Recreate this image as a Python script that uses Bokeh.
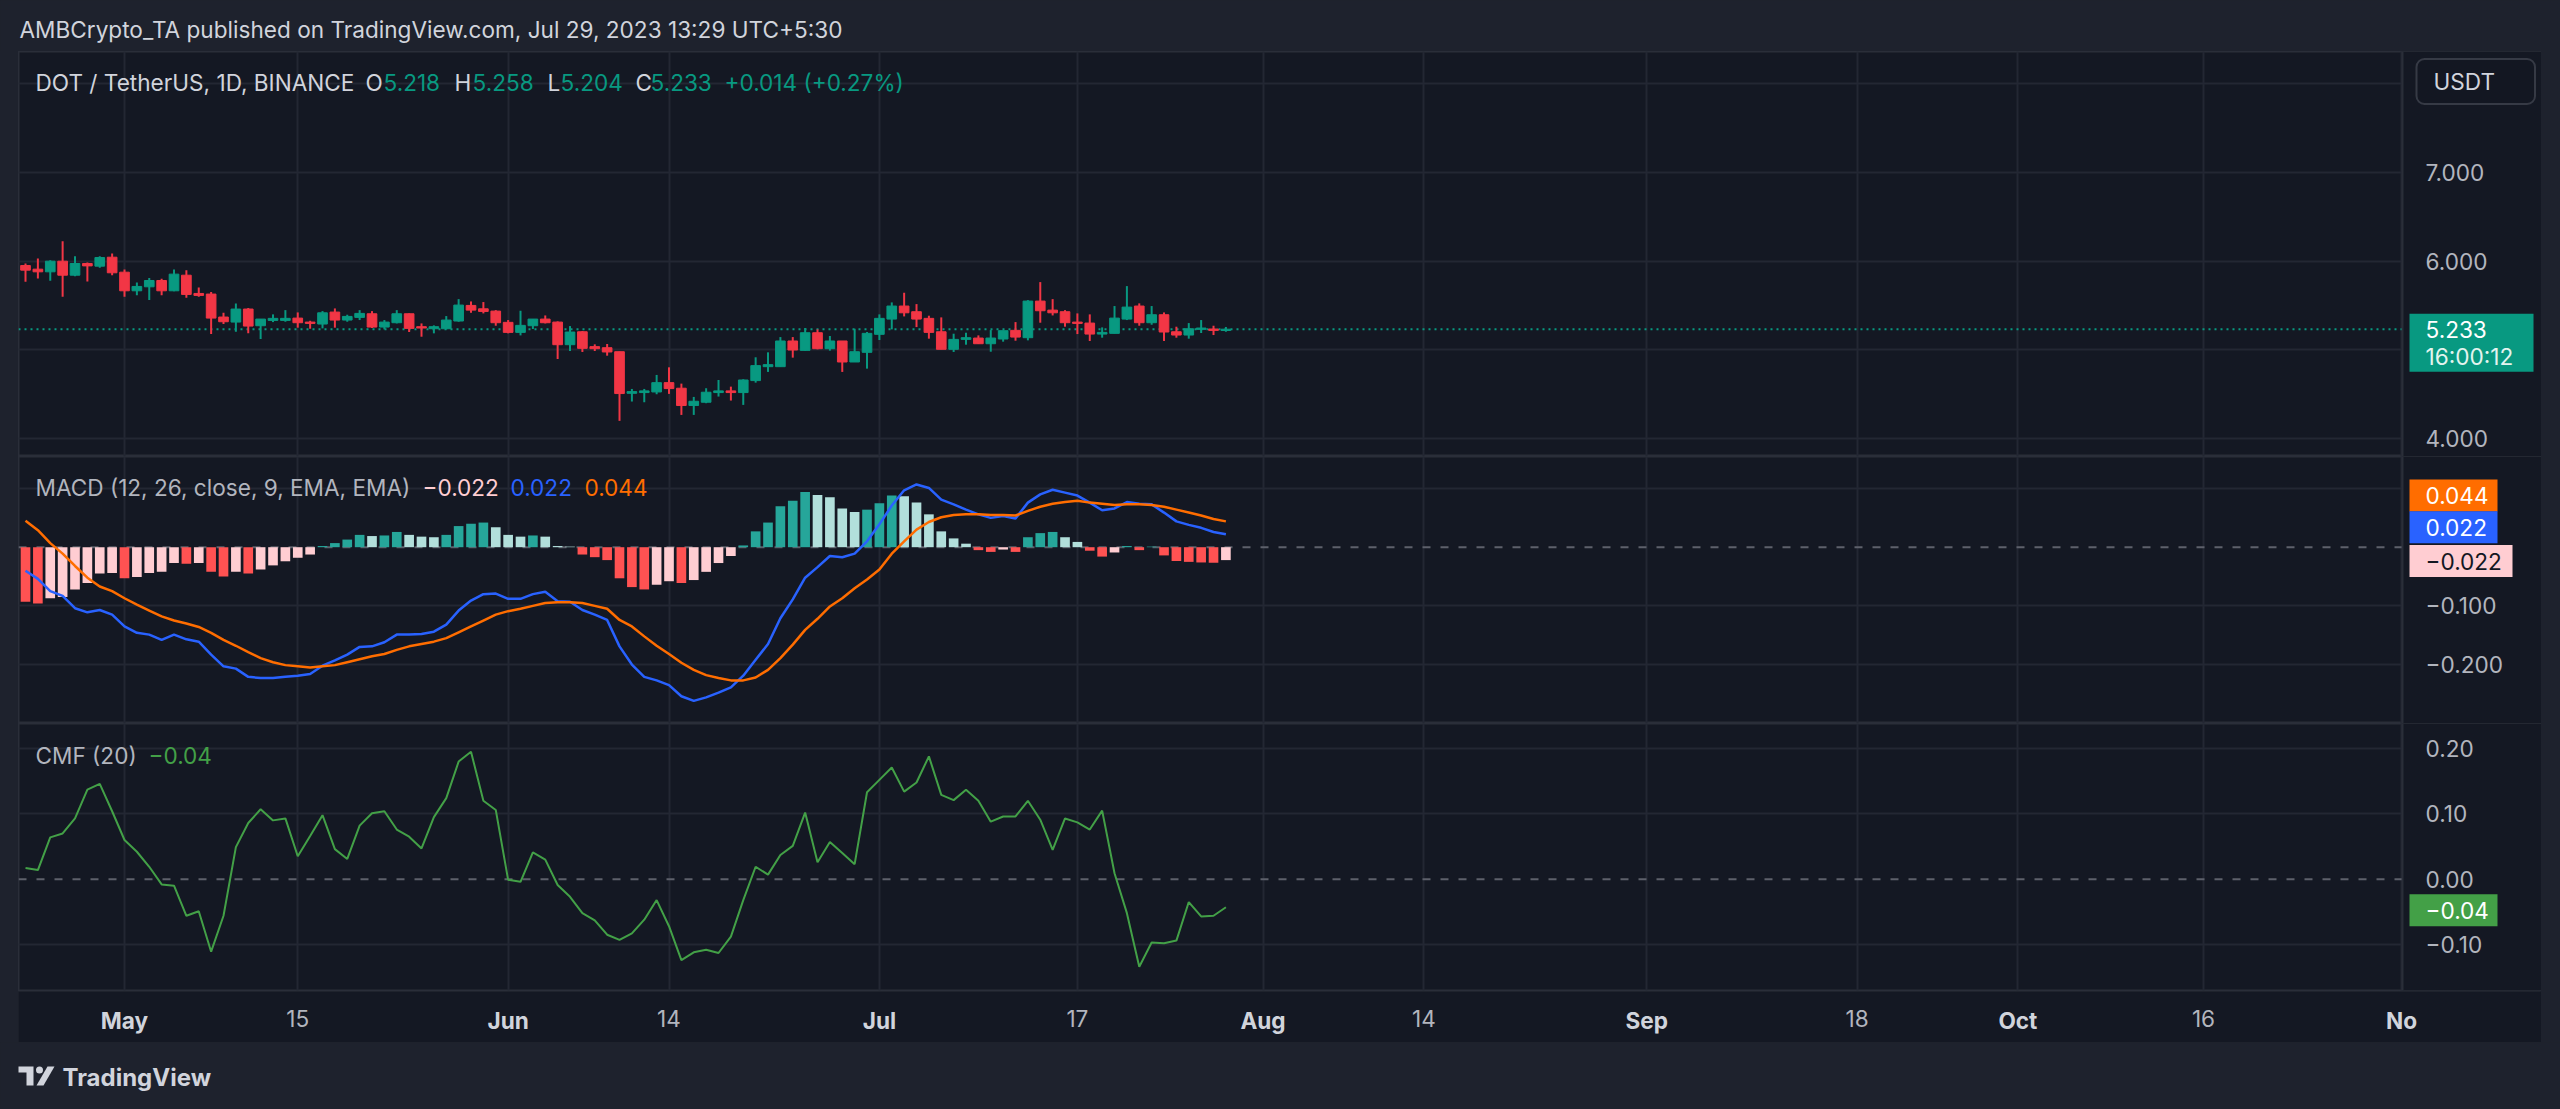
import numpy as np
import pandas as pd
from bokeh.plotting import figure
from bokeh.layouts import column, row
from bokeh.models import (Range1d, LinearAxis, FixedTicker, Grid, Span, Label, BoxAnnotation,
                          ColumnDataSource, CustomJSTickFormatter, Spacer)
from bokeh.embed import file_html
from bokeh.resources import INLINE

# ---------------- data ----------------
start_date = "2023-04-23"
end_date = "2023-07-29"
ref_date = "2023-05-01"

opens = [5.951, 5.910, 5.880, 6.000, 5.842, 5.974, 5.944, 6.045, 5.876, 5.666,
         5.711, 5.782, 5.666, 5.842, 5.636, 5.629, 5.370, 5.313, 5.460, 5.272,
         5.332, 5.332, 5.358, 5.313, 5.291, 5.426, 5.336, 5.366, 5.407, 5.257,
         5.306, 5.407, 5.261, 5.238, 5.238, 5.325, 5.501, 5.463, 5.437, 5.310,
         5.197, 5.272, 5.347, 5.313, 5.058, 5.204, 5.036, 5.024, 4.979, 4.510,
         4.518, 4.525, 4.630, 4.567, 4.372, 4.409, 4.518, 4.537, 4.518, 4.653,
         4.810, 4.810, 5.100, 4.994, 5.193, 5.013, 5.100, 4.863, 4.972, 5.175,
         5.347, 5.494, 5.430, 5.355, 5.204, 5.006, 5.118, 5.133, 5.069, 5.122,
         5.220, 5.137, 5.550, 5.448, 5.430, 5.313, 5.302, 5.178, 5.186, 5.347,
         5.494, 5.306, 5.396, 5.204, 5.167, 5.231, 5.235, 5.218]
highs = [5.974, 6.030, 6.011, 6.225, 6.056, 5.985, 6.056, 6.086, 5.906, 5.760,
         5.809, 5.801, 5.906, 5.899, 5.704, 5.651, 5.418, 5.524, 5.471, 5.347,
         5.400, 5.448, 5.422, 5.328, 5.437, 5.467, 5.396, 5.448, 5.437, 5.336,
         5.448, 5.411, 5.298, 5.276, 5.381, 5.572, 5.546, 5.539, 5.448, 5.336,
         5.441, 5.347, 5.388, 5.321, 5.268, 5.212, 5.062, 5.066, 4.979, 4.559,
         4.559, 4.717, 4.803, 4.619, 4.469, 4.567, 4.660, 4.585, 4.668, 4.916,
         4.972, 5.144, 5.144, 5.246, 5.231, 5.156, 5.100, 5.238, 5.201, 5.400,
         5.535, 5.644, 5.516, 5.385, 5.366, 5.182, 5.193, 5.163, 5.223, 5.216,
         5.313, 5.561, 5.764, 5.572, 5.448, 5.411, 5.400, 5.253, 5.494, 5.719,
         5.524, 5.494, 5.422, 5.261, 5.302, 5.336, 5.272, 5.258]
lows = [5.767, 5.805, 5.779, 5.599, 5.831, 5.771, 5.925, 5.842, 5.599, 5.617,
        5.561, 5.617, 5.662, 5.587, 5.599, 5.178, 5.291, 5.204, 5.186, 5.122,
        5.313, 5.317, 5.250, 5.238, 5.242, 5.250, 5.317, 5.336, 5.246, 5.231,
        5.298, 5.201, 5.148, 5.186, 5.231, 5.317, 5.418, 5.411, 5.272, 5.186,
        5.163, 5.235, 5.298, 4.897, 4.987, 4.976, 4.987, 4.934, 4.199, 4.417,
        4.409, 4.499, 4.503, 4.266, 4.266, 4.398, 4.473, 4.428, 4.379, 4.630,
        4.751, 4.810, 4.912, 4.991, 5.006, 4.991, 4.751, 4.863, 4.788, 5.111,
        5.231, 5.377, 5.257, 5.126, 5.006, 4.976, 5.058, 5.066, 4.979, 5.092,
        5.103, 5.107, 5.306, 5.388, 5.261, 5.178, 5.100, 5.137, 5.186, 5.336,
        5.272, 5.283, 5.100, 5.137, 5.126, 5.190, 5.167, 5.204]
closes = [5.899, 5.880, 6.000, 5.842, 5.974, 5.947, 6.041, 5.869, 5.666, 5.715,
          5.782, 5.666, 5.854, 5.625, 5.614, 5.358, 5.317, 5.460, 5.268, 5.347,
          5.355, 5.355, 5.306, 5.298, 5.418, 5.336, 5.377, 5.411, 5.257, 5.313,
          5.407, 5.242, 5.246, 5.261, 5.336, 5.505, 5.448, 5.433, 5.306, 5.197,
          5.276, 5.347, 5.306, 5.058, 5.201, 5.017, 5.013, 4.976, 4.507, 4.529,
          4.537, 4.630, 4.563, 4.372, 4.420, 4.522, 4.537, 4.518, 4.660, 4.822,
          4.833, 5.100, 4.998, 5.193, 5.013, 5.100, 4.863, 4.979, 5.186, 5.355,
          5.494, 5.418, 5.347, 5.197, 5.006, 5.118, 5.137, 5.069, 5.133, 5.216,
          5.144, 5.550, 5.441, 5.418, 5.306, 5.298, 5.178, 5.197, 5.358, 5.482,
          5.306, 5.396, 5.201, 5.167, 5.238, 5.246, 5.219, 5.233]

macd_line = [-0.040, -0.054, -0.075, -0.083, -0.104, -0.111, -0.107, -0.115, -0.135, -0.146,
             -0.149, -0.158, -0.149, -0.157, -0.161, -0.183, -0.203, -0.207, -0.221, -0.223,
             -0.223, -0.221, -0.219, -0.216, -0.202, -0.193, -0.183, -0.170, -0.169, -0.162,
             -0.149, -0.149, -0.148, -0.144, -0.132, -0.108, -0.091, -0.080, -0.079, -0.088,
             -0.088, -0.080, -0.076, -0.092, -0.093, -0.107, -0.115, -0.124, -0.169, -0.200,
             -0.221, -0.227, -0.235, -0.254, -0.262, -0.256, -0.248, -0.239, -0.219, -0.192,
             -0.165, -0.121, -0.089, -0.052, -0.034, -0.015, -0.017, -0.011, 0.010, 0.039,
             0.071, 0.097, 0.107, 0.101, 0.081, 0.073, 0.064, 0.056, 0.050, 0.053,
             0.049, 0.076, 0.090, 0.098, 0.093, 0.088, 0.076, 0.063, 0.066, 0.077,
             0.074, 0.073, 0.059, 0.044, 0.038, 0.033, 0.026, 0.022]
signal_line = [0.045, 0.029, 0.007, -0.011, -0.032, -0.052, -0.067, -0.075, -0.087, -0.098,
               -0.108, -0.118, -0.125, -0.130, -0.136, -0.146, -0.158, -0.168, -0.179, -0.189,
               -0.196, -0.201, -0.203, -0.205, -0.203, -0.201, -0.196, -0.191, -0.186, -0.182,
               -0.175, -0.169, -0.165, -0.161, -0.155, -0.145, -0.135, -0.125, -0.115, -0.109,
               -0.105, -0.100, -0.095, -0.094, -0.094, -0.095, -0.100, -0.105, -0.124, -0.135,
               -0.152, -0.168, -0.182, -0.197, -0.209, -0.218, -0.223, -0.227, -0.227, -0.222,
               -0.209, -0.189, -0.166, -0.141, -0.122, -0.101, -0.087, -0.070, -0.055, -0.038,
               -0.011, 0.010, 0.030, 0.043, 0.051, 0.055, 0.056, 0.056, 0.055, 0.055,
               0.054, 0.062, 0.069, 0.074, 0.077, 0.079, 0.076, 0.074, 0.072, 0.073,
               0.073, 0.072, 0.069, 0.064, 0.059, 0.054, 0.048, 0.044]
macd_hist = [-0.093, -0.096, -0.087, -0.085, -0.072, -0.061, -0.045, -0.044, -0.053, -0.051,
             -0.044, -0.042, -0.027, -0.028, -0.027, -0.042, -0.050, -0.042, -0.045, -0.038,
             -0.031, -0.024, -0.018, -0.0125, 0.002, 0.007, 0.013, 0.021, 0.019, 0.020,
             0.026, 0.021, 0.018, 0.017, 0.021, 0.036, 0.040, 0.042, 0.034, 0.021,
             0.018, 0.020, 0.018, 0.002, 0.001, -0.0125, -0.017, -0.022, -0.053, -0.068,
             -0.072, -0.064, -0.058, -0.061, -0.056, -0.042, -0.027, -0.015, 0.003, 0.027,
             0.042, 0.070, 0.079, 0.094, 0.089, 0.085, 0.066, 0.060, 0.064, 0.075,
             0.088, 0.087, 0.076, 0.056, 0.027, 0.015, 0.006, -0.005, -0.008, -0.004,
             -0.008, 0.017, 0.024, 0.026, 0.017, 0.009, -0.006, -0.016, -0.009, 0.002,
             -0.005, 0.001, -0.014, -0.0235, -0.025, -0.026, -0.0265, -0.022]
cmf = [0.017, 0.014, 0.064, 0.070, 0.093, 0.137, 0.146, 0.104, 0.060, 0.042,
       0.019, -0.008, -0.010, -0.056, -0.049, -0.111, -0.056, 0.049, 0.086, 0.107,
       0.090, 0.093, 0.035, 0.066, 0.098, 0.046, 0.031, 0.082, 0.101, 0.104,
       0.076, 0.065, 0.047, 0.095, 0.124, 0.180, 0.195, 0.120, 0.106, -0.001,
       -0.004, 0.041, 0.030, -0.009, -0.027, -0.052, -0.063, -0.085, -0.093, -0.083,
       -0.062, -0.032, -0.072, -0.124, -0.112, -0.108, -0.113, -0.088, -0.032, 0.019,
       0.007, 0.037, 0.051, 0.102, 0.026, 0.057, 0.040, 0.023, 0.133, 0.152,
       0.171, 0.134, 0.148, 0.188, 0.129, 0.121, 0.137, 0.120, 0.088, 0.096,
       0.096, 0.120, 0.091, 0.045, 0.093, 0.087, 0.076, 0.105, 0.009, -0.052,
       -0.134, -0.097, -0.098, -0.094, -0.035, -0.057, -0.056, -0.043]

tick_dates = ["2023-05-01", "2023-05-15", "2023-06-01", "2023-06-14", "2023-07-01",
              "2023-07-17", "2023-08-01", "2023-08-14", "2023-09-01", "2023-09-18",
              "2023-10-01", "2023-10-16", "2023-11-01"]
tick_labels = ["May", "15", "Jun", "14", "Jul", "17", "Aug", "14", "Sep", "18", "Oct", "16", "No"]
tick_is_month = [True, False, True, False, True, False, True, False, True, False, True, False, True]

price_ticks = [4.0, 6.0, 7.0]
price_grid = [4.0, 5.0, 6.0, 7.0, 8.0]
macd_ticks = [-0.1, -0.2]
macd_grid = [0.1, -0.1, -0.2]
cmf_ticks = [0.2, 0.1, 0.0, -0.1]
cmf_grid = [0.2, 0.1, -0.1]

symbol_text = "DOT / TetherUS, 1D, BINANCE"
header_text = "AMBCrypto_TA published on TradingView.com, Jul 29, 2023 13:29 UTC+5:30"
countdown = "16:00:12"
currency = "USDT"

# ---------------- style ----------------
FONT = "Inter"
FS = "22.6px"
OUT = "#1e222d"
BG = "#141823"
GRID = "#232733"
SEP = "#2a2e39"
UP = "#089981"
DOWN = "#f23645"
AXTXT = "#b2b5be"
TXT = "#d1d4dc"

dates = pd.date_range(start_date, end_date, freq="D")
x = (dates - pd.Timestamp(ref_date)).days.to_numpy().astype(float)
tick_x = [float((pd.Timestamp(d) - pd.Timestamp(ref_date)).days) for d in tick_dates]
month_x = [t for t, m in zip(tick_x, tick_is_month) if m]
month_l = [l for l, m in zip(tick_labels, tick_is_month) if m]
day_x = [t for t, m in zip(tick_x, tick_is_month) if not m]
day_l = [l for l, m in zip(tick_labels, tick_is_month) if not m]

def mfmt(v, n):
    return ("\u2212" if v < 0 else "") + f"{abs(v):.{n}f}"

X_AXIS = 184.08          # price-scale edge (data units)
xr = Range1d(-8.566, 195.31)
TAG_L = 2391             # tag box left, px from frame left
TAG_TX = 2407            # tag text start, px from frame left

def pane(height, yr, grid_ticks, border_bottom=0):
    p = figure(width=2523, height=height, x_range=xr, y_range=yr,
               x_axis_type=None, y_axis_type=None, output_backend="svg",
               toolbar_location=None, min_border_left=0, min_border_top=0,
               min_border_bottom=border_bottom, min_border_right=0,
               background_fill_color=BG, border_fill_color=BG,
               outline_line_color=SEP, outline_line_width=2)
    p.add_layout(Grid(dimension=0, ticker=FixedTicker(ticks=tick_x),
                      grid_line_color=GRID, grid_line_width=2))
    p.add_layout(Grid(dimension=1, ticker=FixedTicker(ticks=grid_ticks),
                      grid_line_color=GRID, grid_line_width=2))
    return p

def finish_pane(p):
    p.add_layout(BoxAnnotation(left=X_AXIS, fill_color=BG, fill_alpha=1.0,
                               line_color=None, level="underlay"))
    p.add_layout(Span(location=X_AXIS, dimension="height", line_color=SEP,
                      line_width=2, level="underlay"))

def right_axis(p, ticks, n):
    ax = LinearAxis(ticker=FixedTicker(ticks=ticks), fixed_location=X_AXIS,
                    formatter=CustomJSTickFormatter(args=dict(n=n), code="""
                        return (tick < -1e-9 ? "\\u2212" : "") + Math.abs(tick).toFixed(n);"""),
                    major_tick_in=0, major_tick_out=0, minor_tick_in=0, minor_tick_out=0,
                    axis_line_color=None, major_label_standoff=23,
                    major_label_text_font=FONT, major_label_text_font_size=FS,
                    major_label_text_color=AXTXT)
    p.add_layout(ax, "right")
    return ax

def tag(p, fh, v, lines, bg, fg, yoff, half, width):
    """value tag on the price scale: box centred yoff px above the value"""
    yr = p.y_range
    dy = (yr.end - yr.start) / fh
    c = v + yoff * dy
    p.add_layout(BoxAnnotation(left=TAG_L, right=TAG_L + width, left_units="screen",
                               right_units="screen", top=c + half * dy, bottom=c - half * dy,
                               fill_color=bg, fill_alpha=1.0, line_color=None))
    n = len(lines)
    for k, t in enumerate(lines):
        off = yoff + (n - 1) * 13.5 - k * 27
        p.add_layout(Label(x=TAG_TX, y=v, x_units="screen", y_units="data", y_offset=off,
                           text=t, text_font=FONT, text_font_size=FS,
                           text_color=fg[k] if isinstance(fg, list) else fg,
                           text_align="left", text_baseline="middle"))

def legend(p, xs, ys, text, color):
    p.add_layout(Label(x=xs, y=ys, x_units="screen", y_units="screen", text=text,
                       text_font=FONT, text_font_size=FS, text_color=color,
                       text_align="left", text_baseline="middle"))

# ---------------- price pane ----------------
PH = 405
pp = pane(PH, Range1d(3.797, 8.365), price_grid)
pp.add_layout(Span(location=closes[-1], dimension="width", line_color=UP,
                   line_dash="2 4", line_width=2, level="underlay"))
finish_pane(pp)
right_axis(pp, price_ticks, 3)
colors = [UP if c >= o else DOWN for o, c in zip(opens, closes)]
src = ColumnDataSource(dict(x=x, o=opens, h=highs, l=lows, c=closes,
                            top=np.maximum(opens, closes), bot=np.minimum(opens, closes),
                            color=colors))
pp.segment(x0="x", y0="l", x1="x", y1="h", line_color="color", line_width=2, source=src)
pp.vbar(x="x", top="top", bottom="bot", width=0.78, fill_color="color",
        line_color="color", line_width=1, source=src)
legend(pp, 17, 374, symbol_text, TXT)
chg = closes[-1] - closes[-2]
ohlc = [("O", 347, 365, opens[-1]), ("H", 436, 454, highs[-1]),
        ("L", 529, 542, lows[-1]), ("C", 617, 632, closes[-1])]
for k, xk, xv, v in ohlc:
    legend(pp, xk, 374, k, TXT)
    legend(pp, xv, 374, f"{v:.3f}", UP)
legend(pp, 706, 374, f"+{chg:.3f} (+{chg / closes[-2] * 100:.2f}%)", UP)
tag(pp, PH, closes[-1], [f"{closes[-1]:.3f}", countdown], UP, ["#ffffff", "#e3f4ef"], -13.5, 29, 124)
pp.add_layout(Label(x=2398, y=375, x_units="screen", y_units="screen", text=currency,
                    text_font=FONT, text_font_size=FS, text_color=TXT,
                    text_align="left", text_baseline="middle",
                    background_fill_color="#131722", border_line_color="#363a45",
                    border_line_width=2, padding=(17, 40, 9, 9), border_radius=8))

# ---------------- MACD pane ----------------
MH = 267
mp = pane(MH, Range1d(-0.3005, 0.1546), macd_grid)
mp.add_layout(Span(location=0, dimension="width", line_color="#5d606b",
                   line_dash="8 10", line_width=2, level="underlay"))
finish_pane(mp)
right_axis(mp, macd_ticks, 3)
hcol = []
for i, h in enumerate(macd_hist):
    prev = macd_hist[i - 1] if i > 0 else 0.0
    if h >= 0:
        hcol.append("#26a69a" if h >= prev else "#b2dfdb")
    else:
        hcol.append("#ffcdd2" if h >= prev else "#ff5252")
msrc = ColumnDataSource(dict(x=x, h=macd_hist, m=macd_line, s=signal_line, color=hcol))
mp.vbar(x="x", top="h", bottom=0, width=0.78, fill_color="color", line_color=None, source=msrc)
mp.line("x", "m", line_color="#2962ff", line_width=2.5, source=msrc)
mp.line("x", "s", line_color="#ff6d00", line_width=2.5, source=msrc)
legend(mp, 17, 236, "MACD (12, 26, close, 9, EMA, EMA)", AXTXT)
legend(mp, 404, 236, mfmt(macd_hist[-1], 3), "#ffcdd2")
legend(mp, 492, 236, mfmt(macd_line[-1], 3), "#2962ff")
legend(mp, 566, 236, mfmt(signal_line[-1], 3), "#ff6d00")
tag(mp, MH, signal_line[-1], [mfmt(signal_line[-1], 3)], "#ff6d00", "#ffffff", 26, 16, 88)
tag(mp, MH, macd_line[-1], [mfmt(macd_line[-1], 3)], "#2962ff", "#ffffff", 7, 16, 88)
tag(mp, MH, macd_hist[-1], [mfmt(macd_hist[-1], 3)], "#ffcdd2", "#131722", -1, 16, 103)

# ---------------- CMF pane ----------------
CB = 52
cp = pane(319, Range1d(-0.1704, 0.2383), cmf_grid, border_bottom=CB)
cp.add_layout(Span(location=0, dimension="width", line_color="#5d606b",
                   line_dash="8 10", line_width=2, level="underlay"))
finish_pane(cp)
right_axis(cp, cmf_ticks, 2)
cp.line(x, cmf, line_color="#43a047", line_width=2)
legend(cp, 17, 235, "CMF (20)", AXTXT)
legend(cp, 130, 235, mfmt(cmf[-1], 2), "#43a047")
tag(cp, 319 - CB, cmf[-1], [mfmt(cmf[-1], 2)], "#43a047", "#ffffff", -3, 16, 88)

fmt_code = "const i = t.indexOf(tick); return i >= 0 ? l[i] : '';"
ax_m = LinearAxis(ticker=FixedTicker(ticks=month_x),
                  formatter=CustomJSTickFormatter(args=dict(t=month_x, l=month_l), code=fmt_code),
                  major_tick_in=0, major_tick_out=0, minor_tick_in=0, minor_tick_out=0,
                  axis_line_color=None, major_label_standoff=16,
                  major_label_text_font=FONT, major_label_text_font_size=FS,
                  major_label_text_font_style="bold", major_label_text_color=TXT)
cp.add_layout(ax_m, "below")
ax_d = LinearAxis(ticker=FixedTicker(ticks=day_x),
                  formatter=CustomJSTickFormatter(args=dict(t=day_x, l=day_l), code=fmt_code),
                  major_tick_in=0, major_tick_out=0, minor_tick_in=0, minor_tick_out=0,
                  axis_line_color=None, major_label_standoff=-27,
                  major_label_text_font=FONT, major_label_text_font_size=FS,
                  major_label_text_color=AXTXT)
cp.add_layout(ax_d, "below")

# ---------------- header / footer ----------------
hf = figure(width=2560, height=51, x_range=Range1d(0, 2560), y_range=Range1d(0, 51),
            x_axis_type=None, y_axis_type=None, output_backend="svg", toolbar_location=None,
            min_border=0, background_fill_color=OUT, border_fill_color=OUT, outline_line_color=None)
hf.add_layout(Label(x=19, y=22, x_units="screen", y_units="screen", text=header_text,
                    text_font=FONT, text_font_size=FS, text_color=TXT,
                    text_align="left", text_baseline="middle"))

ff = figure(width=2560, height=67, x_range=Range1d(0, 2560), y_range=Range1d(0, 67),
            x_axis_type=None, y_axis_type=None, output_backend="svg", toolbar_location=None,
            min_border=0, background_fill_color=OUT, border_fill_color=OUT, outline_line_color=None)
ff.patch([18, 33, 33, 26, 26, 18], [43, 43, 24, 24, 37, 37], fill_color=TXT, line_color=None)
ff.circle([39], [39.5], radius=3.5, fill_color=TXT, line_color=None)
ff.patch([36, 43, 54, 47], [24, 24, 43, 43], fill_color=TXT, line_color=None)
ff.add_layout(Label(x=62, y=32, x_units="screen", y_units="screen", text="TradingView",
                    text_font=FONT, text_font_size="24px", text_font_style="bold",
                    text_color=TXT, text_align="left", text_baseline="middle"))

chart = column(pp, mp, cp, spacing=0)
mid = row(Spacer(width=18, height=991, styles={"background-color": OUT}), chart,
          Spacer(width=19, height=991, styles={"background-color": OUT}), spacing=0)
page = column(hf, mid, ff, spacing=0, styles={"background-color": OUT})

open("out.html", "w").write(file_html(page, INLINE))
